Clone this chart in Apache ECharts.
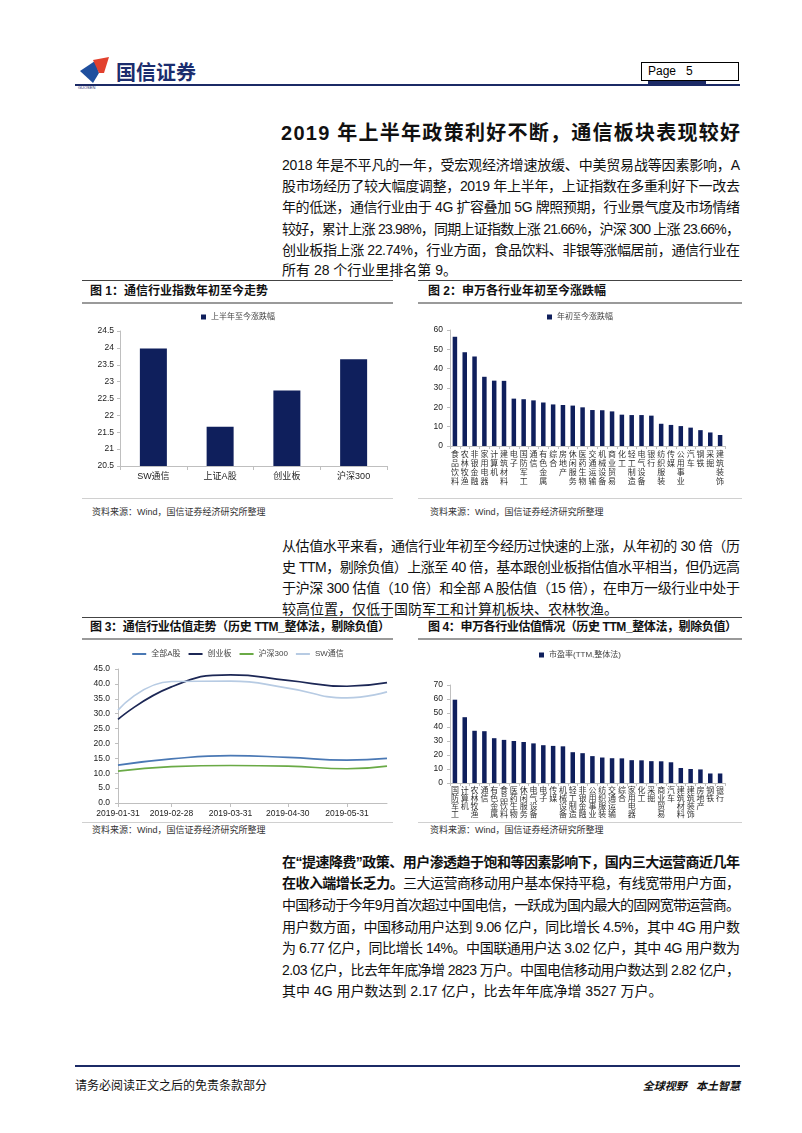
<!DOCTYPE html>
<html><head><meta charset="utf-8">
<script src="https://cdn.jsdelivr.net/npm/echarts@6/dist/echarts.min.js"></script>
<style>
body{margin:0;background:#fff;width:802px;height:1133px;position:relative;overflow:hidden;font-family:"Liberation Sans","Noto Sans CJK SC",sans-serif;color:#111;}
.a{position:absolute;}
.ln{position:absolute;left:282px;height:22px;line-height:22px;font-size:14px;white-space:nowrap;}
.hr{position:absolute;}
.ft{position:absolute;font-size:12px;font-weight:bold;white-space:nowrap;line-height:16px;}
.src{position:absolute;font-size:9px;color:#333;white-space:nowrap;line-height:12px;}
.ch{position:absolute;}
</style></head><body>
<!-- header -->
<svg class="a" style="left:0;top:0" width="802" height="100">
  <polygon points="80,71 95,61 99,73 93,83" fill="#1f4f9e"/>
  <polygon points="93,60 109,57 104,73 99,73" fill="#e2412e"/>
  <rect x="75" y="84" width="665" height="2" fill="#1b2a66"/>
  <rect x="648" y="81" width="58" height="3" fill="#1b2a66"/>
  <rect x="641.5" y="62.5" width="97" height="18" fill="none" stroke="#000" stroke-width="1"/>
</svg>
<div class="a" style="left:116px;top:60px;font-size:20px;font-weight:bold;color:#1b2d6e;line-height:24px;font-family:'Noto Sans CJK SC';">国信证券</div>
<div class="a" style="left:78px;top:85px;font-size:4px;color:#1b2d6e;line-height:5px;">GUOSEN</div>
<div class="a" style="left:648px;top:63px;font-size:12px;line-height:17px;color:#000;">Page&nbsp;&nbsp;&nbsp;5</div>

<!-- title -->
<div class="ln fit" data-w="459" style="top:120px;font-size:20px;font-weight:bold;height:26px;line-height:26px;left:281px;"><span>2019 年上半年政策利好不断，通信板块表现较好</span></div>

<!-- paragraph 1 -->
<div class="ln fit" data-w="458" style="top:154px"><span>2018 年是不平凡的一年，受宏观经济增速放缓、中美贸易战等因素影响，A</span></div>
<div class="ln fit" data-w="458" style="top:175.2px"><span>股市场经历了较大幅度调整，2019 年上半年，上证指数在多重利好下一改去</span></div>
<div class="ln fit" data-w="458" style="top:196.4px"><span>年的低迷，通信行业由于 4G 扩容叠加 5G 牌照预期，行业景气度及市场情绪</span></div>
<div class="ln fit" data-w="458" style="top:217.6px"><span>较好，累计上涨 23.98%，同期上证指数上涨 21.66%，沪深 300 上涨 23.66%，</span></div>
<div class="ln fit" data-w="458" style="top:238.8px"><span>创业板指上涨 22.74%，行业方面，食品饮料、非银等涨幅居前，通信行业在</span></div>
<div class="ln" style="top:259px"><span>所有 28 个行业里排名第 9。</span></div>

<!-- figure 1/2 frames -->
<div class="hr" style="left:82px;top:280px;width:311px;height:1px;background:#444"></div>
<div class="hr" style="left:418px;top:280px;width:324px;height:1px;background:#444"></div>
<div class="ft" style="left:90px;top:283px;"><span>图 1：通信行业指数年初至今走势</span></div>
<div class="ft" style="left:428px;top:283px;"><span>图 2：申万各行业年初至今涨跌幅</span></div>
<div class="hr" style="left:82px;top:302px;width:311px;height:2px;background:#9a9a9a"></div>
<div class="hr" style="left:418px;top:302px;width:324px;height:2px;background:#9a9a9a"></div>
<div id="c1" class="ch" style="left:82px;top:305px;width:312px;height:192px"></div>
<div id="c2" class="ch" style="left:418px;top:305px;width:324px;height:192px"></div>
<div class="hr" style="left:82px;top:498px;width:311px;height:1px;background:#d0d0d0"></div>
<div class="hr" style="left:418px;top:498px;width:324px;height:1px;background:#d0d0d0"></div>
<div class="src" style="left:92px;top:506px;">资料来源：Wind，国信证券经济研究所整理</div>
<div class="src" style="left:430px;top:506px;">资料来源：Wind，国信证券经济研究所整理</div>

<!-- paragraph 2 -->
<div class="ln fit" data-w="458" style="top:535px"><span>从估值水平来看，通信行业年初至今经历过快速的上涨，从年初的 30 倍（历</span></div>
<div class="ln fit" data-w="458" style="top:556px"><span>史 TTM，剔除负值）上涨至 40 倍，基本跟创业板指估值水平相当，但仍远高</span></div>
<div class="ln fit" data-w="458" style="top:577px"><span>于沪深 300 估值（10 倍）和全部 A 股估值（15 倍），在申万一级行业中处于</span></div>
<div class="ln" style="top:598px"><span>较高位置，仅低于国防军工和计算机板块、农林牧渔。</span></div>

<!-- figure 3/4 frames -->
<div class="hr" style="left:82px;top:617px;width:311px;height:1px;background:#444"></div>
<div class="hr" style="left:418px;top:617px;width:324px;height:1px;background:#444"></div>
<div class="ft fit" data-w="300" style="left:90px;top:619px;"><span>图 3：通信行业估值走势（历史 TTM_整体法，剔除负值）</span></div>
<div class="ft fit" data-w="309" style="left:428px;top:619px;"><span>图 4：申万各行业估值情况（历史 TTM_整体法，剔除负值）</span></div>
<div class="hr" style="left:82px;top:638px;width:311px;height:2px;background:#9a9a9a"></div>
<div class="hr" style="left:418px;top:638px;width:324px;height:2px;background:#9a9a9a"></div>
<div id="c3" class="ch" style="left:82px;top:640px;width:312px;height:182px"></div>
<div id="c4" class="ch" style="left:418px;top:640px;width:324px;height:182px"></div>
<div class="hr" style="left:82px;top:822px;width:311px;height:1px;background:#d0d0d0"></div>
<div class="hr" style="left:418px;top:822px;width:324px;height:1px;background:#d0d0d0"></div>
<div class="src" style="left:92px;top:824px;">资料来源：Wind，国信证券经济研究所整理</div>
<div class="src" style="left:430px;top:824px;">资料来源：Wind，国信证券经济研究所整理</div>

<!-- paragraph 3 -->
<div class="ln fit" data-w="458" style="top:851px;font-weight:bold"><span>在“提速降费”政策、用户渗透趋于饱和等因素影响下，国内三大运营商近几年</span></div>
<div class="ln fit" data-w="458" style="top:872px"><span><b>在收入端增长乏力。</b>三大运营商移动用户基本保持平稳，有线宽带用户方面，</span></div>
<div class="ln fit" data-w="458" style="top:894px"><span>中国移动于今年9月首次超过中国电信，一跃成为国内最大的固网宽带运营商。</span></div>
<div class="ln fit" data-w="458" style="top:916px"><span>用户数方面，中国移动用户达到 9.06 亿户，同比增长 4.5%，其中 4G 用户数</span></div>
<div class="ln fit" data-w="458" style="top:937px"><span>为 6.77 亿户，同比增长 14%。中国联通用户达 3.02 亿户，其中 4G 用户数为</span></div>
<div class="ln fit" data-w="458" style="top:959px"><span>2.03 亿户，比去年年底净增 2823 万户。中国电信移动用户数达到 2.82 亿户，</span></div>
<div class="ln" style="top:980px"><span>其中 4G 用户数达到 2.17 亿户，比去年年底净增 3527 万户。</span></div>

<!-- footer -->
<div class="hr" style="left:75px;top:1065px;width:665px;height:2px;background:#1b2a66"></div>
<div class="a" style="left:75px;top:1078px;font-size:12px;line-height:16px;white-space:nowrap;">请务必阅读正文之后的免责条款部分</div>
<div class="a" style="right:62px;top:1078px;font-size:11px;line-height:16px;font-weight:bold;font-style:italic;white-space:nowrap;">全球视野&nbsp;&nbsp;&nbsp;本土智慧</div>

<script>
// ---------- data ----------
const c1Categories = ['SW通信', '上证A股', '创业板', '沪深300'];
const c1Values = [23.98, 21.66, 22.74, 23.66];

const c2Categories = ['食品饮料','农林牧渔','非银金融','家用电器','计算机','建筑材料','电子','国防军工','通信','有色金属','综合','房地产','休闲服务','医药生物','交通运输','机械设备','商业贸易','化工','轻工制造','电气设备','银行','纺织服装','传媒','公用事业','汽车','钢铁','采掘','建筑装饰'];
const c2Values = [56.5,48.5,46.3,35.8,33.8,33.7,24.5,24.2,23.6,22.5,21.5,21.2,20.9,20.0,18.6,18.5,17.9,16.2,16.0,16.0,15.7,11.5,10.9,10.3,9.5,8.2,7.0,5.7];

const c3Dates = ['2019-01-31','2019-02-28','2019-03-31','2019-04-30','2019-05-31','2019-06-21'];
const c3AllA = [12.7, 14.8, 15.9, 15.3, 14.4, 15.0];
const c3ChiNext = [28.1, 39.0, 43.0, 41.2, 39.2, 40.4];
const c3HS300 = [10.7, 12.2, 12.6, 12.4, 11.5, 12.4];
const c3SWTel = [31.2, 40.8, 40.9, 38.6, 35.3, 37.3];
const c3TickLabels = ['2019-01-31','2019-02-28','2019-03-31','2019-04-30','2019-05-31'];

const c4Categories = ['国防军工','计算机','农林牧渔','通信','有色金属','食品饮料','医药生物','休闲服务','电气设备','电子','传媒','机械设备','轻工制造','非银金融','公用事业','纺织服装','交通运输','综合','家用电器','化工','采掘','商业贸易','汽车','建筑材料','建筑装饰','房地产','钢铁','银行'];
const c4Values = [59.5,47.0,37.3,37.0,32.0,30.8,30.0,29.3,28.3,27.0,26.5,26.2,22.0,21.3,19.2,18.2,17.7,17.6,16.3,16.2,15.6,15.5,14.8,10.7,10.0,9.7,6.8,6.8];

// ---------- text fitting ----------
document.querySelectorAll('.fit').forEach(el => {
  const s = el.firstElementChild;
  const W = +el.dataset.w;
  const w = s.getBoundingClientRect().width;
  const n = [...s.textContent].length;
  if (n > 1) s.style.letterSpacing = ((W - w) / (n - 1)) + 'px';
});

// ---------- charts ----------
const NAVY = '#0f1f5c';
const AX = '#bfbfbf';
const FONT = '"Liberation Sans","Noto Sans CJK SC",sans-serif';

function toTs(s){ const p = s.split('-').map(Number); return Date.UTC(p[0], p[1]-1, p[2]); }
function fmt(ts){ const d = new Date(ts); const m = d.getUTCMonth()+1, dd = d.getUTCDate(); return d.getUTCFullYear()+'-'+(m<10?'0':'')+m+'-'+(dd<10?'0':'')+dd; }
const vert = v => v.split('').join('\n');

const ch1 = echarts.init(document.getElementById('c1'));
ch1.setOption({
  animation:false,
  textStyle:{fontFamily:FONT},
  legend:{top:3,left:'center',icon:'rect',itemWidth:5,itemHeight:5,itemGap:3,textStyle:{fontSize:8,color:'#444'},data:['上半年至今涨跌幅']},
  grid:{left:38,right:7,top:26,bottom:31},
  xAxis:{type:'category',data:c1Categories,
    axisLine:{lineStyle:{color:AX}},axisTick:{show:true,length:4,lineStyle:{color:AX}},
    axisLabel:{fontSize:9,color:'#222',margin:6}},
  yAxis:{type:'value',min:20.5,max:24.5,interval:0.5,splitLine:{show:false},
    axisLine:{show:true,lineStyle:{color:AX}},axisTick:{show:true,length:3,lineStyle:{color:AX}},
    axisLabel:{fontSize:8.5,color:'#222',margin:6}},
  series:[{type:'bar',name:'上半年至今涨跌幅',data:c1Values,barWidth:27,itemStyle:{color:NAVY}}]
});

const ch2 = echarts.init(document.getElementById('c2'));
ch2.setOption({
  animation:false,
  textStyle:{fontFamily:FONT},
  legend:{top:3,left:'center',icon:'rect',itemWidth:5,itemHeight:5,itemGap:3,textStyle:{fontSize:8,color:'#444'},data:['年初至今涨跌幅']},
  grid:{left:32,right:17,top:25,bottom:51},
  xAxis:{type:'category',data:c2Categories,
    axisLine:{lineStyle:{color:AX}},axisTick:{show:true,length:3,lineStyle:{color:AX}},
    axisLabel:{interval:0,fontSize:8,lineHeight:9,color:'#333',margin:4,formatter:vert,verticalAlign:'top'}},
  yAxis:{type:'value',min:0,max:60,interval:10,splitLine:{show:false},
    axisLine:{show:true,lineStyle:{color:AX}},axisTick:{show:true,length:3,lineStyle:{color:AX}},
    axisLabel:{fontSize:8.5,color:'#222',margin:7}},
  series:[{type:'bar',name:'年初至今涨跌幅',data:c2Values,barWidth:4.5,itemStyle:{color:NAVY}}]
});

const ch4 = echarts.init(document.getElementById('c4'));
ch4.setOption({
  animation:false,
  textStyle:{fontFamily:FONT},
  legend:{top:6,left:'center',icon:'rect',itemWidth:5,itemHeight:5,itemGap:3,textStyle:{fontSize:8,color:'#444'},data:['市盈率(TTM,整体法)']},
  grid:{left:32,right:17,top:45,bottom:39},
  xAxis:{type:'category',data:c4Categories,
    axisLine:{lineStyle:{color:AX}},axisTick:{show:true,length:3,lineStyle:{color:AX}},
    axisLabel:{interval:0,fontSize:8,lineHeight:8,color:'#333',margin:4,formatter:vert,verticalAlign:'top'}},
  yAxis:{type:'value',min:0,max:70,interval:10,splitLine:{show:false},
    axisLine:{show:true,lineStyle:{color:AX}},axisTick:{show:true,length:3,lineStyle:{color:AX}},
    axisLabel:{fontSize:8.5,color:'#222',margin:7}},
  series:[{type:'bar',name:'市盈率(TTM,整体法)',data:c4Values,barWidth:4.5,itemStyle:{color:NAVY}}]
});

const ch3 = echarts.init(document.getElementById('c3'));
const mk = (name, vals, color) => ({type:'line',name,smooth:0.5,showSymbol:false,
  data:c3Dates.map((d,i)=>[toTs(d), vals[i]]),lineStyle:{width:1.7,color},itemStyle:{color}});
const tickTs = c3TickLabels.map(toTs);
ch3.setOption({
  animation:false,
  textStyle:{fontFamily:FONT},
  legend:{top:5,left:'center',icon:'rect',itemWidth:14,itemHeight:2,itemGap:8,textStyle:{fontSize:8,color:'#444'},
    data:['全部A股','创业板','沪深300','SW通信']},
  grid:{left:36,right:7,top:29,bottom:19},
  xAxis:{type:'value',min:toTs(c3Dates[0]),max:toTs(c3Dates[c3Dates.length-1]),
    splitLine:{show:false},
    axisLine:{lineStyle:{color:AX}},
    axisTick:{show:true,length:4,lineStyle:{color:AX},customValues:tickTs},
    axisLabel:{fontSize:8.5,color:'#222',margin:6,customValues:tickTs,formatter:v=>fmt(v),hideOverlap:false}},
  yAxis:{type:'value',min:0,max:45,interval:5,splitLine:{show:false},
    axisLine:{show:true,lineStyle:{color:AX}},axisTick:{show:true,length:3,lineStyle:{color:AX}},
    axisLabel:{fontSize:8.5,color:'#222',margin:8,formatter:v=>v.toFixed(1)}},
  series:[mk('全部A股',c3AllA,'#4a78b4'),mk('创业板',c3ChiNext,'#1c2755'),mk('沪深300',c3HS300,'#6aaa46'),mk('SW通信',c3SWTel,'#b7cbe3')]
});
</script>
</body></html>
